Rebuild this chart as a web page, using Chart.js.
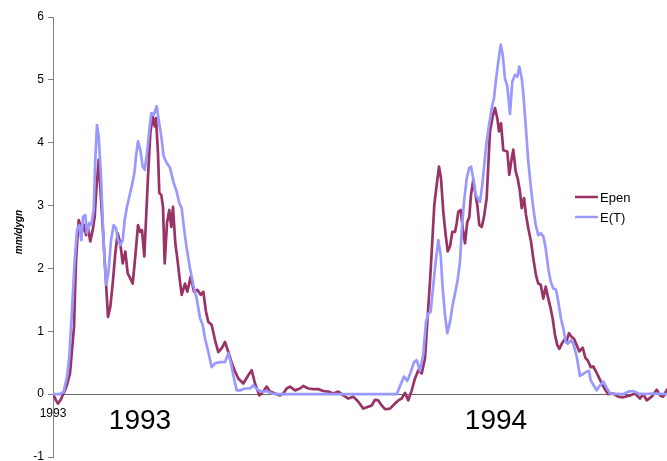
<!DOCTYPE html>
<html><head><meta charset="utf-8">
<script src="https://cdn.jsdelivr.net/npm/chart.js@4.4.0/dist/chart.umd.min.js"></script>
<style>html,body{margin:0;padding:0;background:#fff;} #wrap{width:667px;height:461px;position:relative}</style>
</head><body><div id="wrap"><canvas id="c" width="667" height="461"></canvas></div>
<script>
// ---- data ----
const seriesNames = ['Epen', 'E(T)'];
const yAxisTitle = 'mm/dygn';
const xTickValues = [0];
const xTickLabels = ['1993'];
const yearNames = ['1993', '1994'];
const yearLabelT = [87, 443];

const epenT = [
  0,3,5,8,10,12,14,17,19,21,
  23,25.7,27.3,29,31.3,33,35,37.3,39.7,41.7,
  43.3,45.7,47.3,49.7,52.3,55,57.3,59.7,62.3,64.7,
  67.3,69.7,72.3,74.7,77.3,79.7,82.3,85,87.3,89,
  91.3,93,95,97.3,99.7,101.7,103,105,106.3,108.3,
  110,111.7,114,116.3,118.3,120,122.3,124.3,127,128.7,
  132,134.3,137.7,141,144.3,147.7,150.3,153,155.3,158.7,
  162,165.3,168.7,172,175.3,178.7,182,185.3,190.3,195.3,
  198.7,202,206.3,210.3,213.7,217,222,227,230.3,233.7,
  237,242,247,250.3,255.3,260.3,265.3,270.3,275.3,280.3,
  285.3,290.3,295.3,300.3,305.3,310.3,315.3,318.7,322,325.3,
  328.7,332,337,342,345.3,348.7,352,355.3,358.7,362,
  365.3,368.7,372,374.3,377,379.3,381.3,383.7,386,388,
  390.3,392.7,394.7,397,399.3,402,403.7,405.3,407.7,409.7,
  412,414.3,416.3,418,420.3,422,424.3,426.3,428.7,431,
  433.7,435.3,437,439.7,442,444.3,446,448,450.3,454.3,
  456.3,458.7,460.3,462.7,464.7,467,468.7,471,473,475.3,
  478,480.3,483,485.3,487.7,490.3,492.7,495.3,497.7,499.7,
  502,504.3,506.3,508.7,511,513.7,516,518.7,521,523.7,
  526.3,529.7,532.3,535.3,537.7,540.3,543,546.3,549.7,553,
  555.3,560.3,565.3,570.3,577,582,587,590.3,593.7,598.7,
  603.7,607,610.3,614
];
const epenV = [
  0,-0.10,-0.15,-0.08,0.0,0.06,0.15,0.33,0.70,1.07,
  2.13,2.77,2.69,2.58,2.69,2.53,2.64,2.43,2.61,2.82,
  3.25,3.73,3.30,2.66,1.97,1.23,1.39,1.76,2.24,2.56,
  2.40,2.08,2.27,1.92,1.84,1.76,2.19,2.69,2.58,2.61,
  2.19,2.77,3.46,4.15,4.42,4.26,4.39,3.83,3.20,3.17,
  2.98,2.08,2.72,2.93,2.66,2.98,2.40,2.16,1.79,1.58,
  1.76,1.63,1.87,1.63,1.66,1.58,1.63,1.31,1.15,1.10,
  0.86,0.67,0.73,0.83,0.67,0.50,0.36,0.25,0.17,0.30,
  0.38,0.17,-0.02,0.04,0.12,0.04,0.01,-0.02,0.01,0.09,
  0.12,0.06,0.09,0.13,0.09,0.08,0.08,0.05,0.04,0.01,
  0.04,-0.02,-0.07,-0.04,-0.12,-0.23,-0.20,-0.18,-0.09,-0.10,
  -0.18,-0.24,-0.23,-0.15,-0.10,-0.07,0.02,-0.10,0.06,0.25,
  0.38,0.33,0.57,1.15,1.79,2.43,3.01,3.33,3.62,3.43,
  2.90,2.53,2.27,2.35,2.58,2.58,2.72,2.90,2.93,2.64,
  2.40,2.74,2.82,3.17,3.41,3.22,3.01,2.69,2.66,2.82,
  3.12,3.65,4.18,4.42,4.55,4.39,4.18,4.31,3.88,3.86,
  3.49,3.75,3.89,3.54,3.43,3.22,2.96,3.12,2.85,2.64,
  2.43,2.16,1.89,1.76,1.74,1.52,1.71,1.52,1.36,1.20,
  0.94,0.78,0.72,0.80,0.86,0.85,0.97,0.91,0.88,0.78,
  0.68,0.74,0.58,0.52,0.43,0.44,0.36,0.25,0.14,0.05,
  0,0.01,-0.04,-0.05,-0.02,0.01,-0.07,0.0,-0.10,-0.04,
  0.07,-0.02,-0.04,0.07
];

const etT = [
  0,7,10.7,14,16.3,19,21.7,24,26.3,28.3,
  30,32.3,34,36.3,38.3,40.7,42.3,44,45.7,48,
  50,51.7,53.3,55.7,58,60.7,63,65,67.3,69.7,
  71.7,74,76.3,79,81.3,83,85,87.3,89.7,91.7,
  94,96.3,98.3,100.7,103.7,105.7,108.3,110.7,114,117,
  120.3,123.7,126.3,128.7,131,133.7,137,140.3,143.7,147,
  149.7,152,155.3,158.7,162,167,172,175.3,177.7,180.3,
  183.7,187,192,197,200.3,205.3,210.3,213.7,218.7,223.7,
  343.7,347,351,354.3,357.7,361,363.7,367,370.3,373,
  375.3,377.7,380.3,382.7,385.3,387.7,389.7,392,394.3,397,
  399.7,402,404.7,407,408.7,411,413.7,416,418,420.3,
  422.7,424.7,427,429.3,431.3,433.7,436,438.7,441,443,
  445.3,447.7,449.7,452,454.3,457,459.3,462,464.3,466.3,
  468.7,470.3,472.7,475.3,478,480.3,482.7,485.3,487.7,490.3,
  492.7,495.3,497.7,500.3,503,505.3,508,510.3,512.7,514.7,
  517.7,520.3,523.7,527,530.3,533.7,536,537.7,540.3,543.7,
  547,550.3,553.7,557,570.3,575.3,580.3,585.3,592,600.3,
  614
];
const etV = [
  0,0,0.04,0.28,0.59,1.34,2.13,2.61,2.69,2.45,
  2.82,2.85,2.56,2.72,2.69,2.93,3.73,4.28,4.10,3.46,
  2.66,2.08,1.74,1.97,2.45,2.69,2.64,2.45,2.37,2.45,
  2.77,2.98,3.14,3.33,3.51,3.78,4.02,3.89,3.62,3.57,
  3.83,4.20,4.47,4.44,4.58,4.36,4.10,3.78,3.67,3.60,
  3.38,3.22,3.04,2.96,2.64,2.32,2.00,1.74,1.52,1.21,
  1.10,0.89,0.67,0.43,0.49,0.51,0.51,0.65,0.51,0.30,
  0.06,0.06,0.09,0.09,0.14,0.06,0.04,0.05,0.01,0,
  0,0.13,0.28,0.21,0.35,0.51,0.54,0.37,0.64,1.15,
  1.28,1.31,1.74,2.11,2.45,2.21,1.68,1.26,0.97,1.15,
  1.42,1.60,1.82,2.11,2.58,3.06,3.43,3.59,3.62,3.43,
  3.17,3.12,3.06,3.33,3.65,4.02,4.28,4.55,4.71,5.00,
  5.29,5.56,5.40,5.02,4.90,4.46,4.97,5.08,5.05,5.21,
  5.03,4.79,4.28,3.70,3.27,2.96,2.69,2.53,2.56,2.51,
  2.32,2.00,1.79,1.68,1.66,1.47,1.20,1.05,0.83,0.80,
  0.86,0.80,0.60,0.29,0.32,0.36,0.37,0.22,0.15,0.06,
  0.14,0.20,0.10,0.01,0,0.04,0.05,0.01,0,0.01,
  0
];

const yMin = -1, yMax = 6, xMax = 614;

// ---- chart ----
const FONT = '"Liberation Sans", Arial, sans-serif';
const colors = ['#993366', '#9999FF'];
const toXY = (ts, vs) => ts.map((t, i) => ({ x: t, y: vs[i] }));

const extras = {
  id: 'extras',
  afterDraw(chart) {
    const ctx = chart.ctx, xs = chart.scales.x, ys = chart.scales.y;
    ctx.save();
    ctx.fillStyle = '#000';
    ctx.font = '28px ' + FONT;
    ctx.textAlign = 'center';
    ctx.textBaseline = 'middle';
    yearNames.forEach((n, i) => ctx.fillText(n, xs.getPixelForValue(yearLabelT[i]), ys.getPixelForValue(-0.43)));
    ctx.font = '13px ' + FONT;
    ctx.textAlign = 'left';
    seriesNames.forEach((n, i) => {
      const y = 197 + i * 20;
      ctx.strokeStyle = colors[i];
      ctx.lineWidth = 2.5;
      ctx.beginPath(); ctx.moveTo(575, y); ctx.lineTo(598, y); ctx.stroke();
      ctx.fillStyle = '#000';
      ctx.fillText(n, 600, y + 1);
    });
    ctx.translate(19.5, 232);
    ctx.rotate(-Math.PI / 2);
    ctx.font = 'italic bold 10px ' + FONT;
    ctx.textAlign = 'center';
    ctx.fillText(yAxisTitle, 0, 0);
    ctx.restore();
  }
};

new Chart(document.getElementById('c'), {
  type: 'line',
  data: {
    datasets: [
      { label: seriesNames[0], data: toXY(epenT, epenV), borderColor: colors[0], borderWidth: 2.7, borderJoinStyle: 'round', borderCapStyle: 'round', pointRadius: 0, tension: 0, order: 2 },
      { label: seriesNames[1], data: toXY(etT, etV), borderColor: colors[1], borderWidth: 2.7, borderJoinStyle: 'round', borderCapStyle: 'round', pointRadius: 0, tension: 0, order: 1 }
    ]
  },
  options: {
    responsive: false,
    animation: false,
    devicePixelRatio: 1,
    layout: { padding: { top: 17, bottom: 4, left: 0, right: 0 } },
    plugins: { legend: { display: false }, tooltip: { enabled: false } },
    scales: {
      x: {
        type: 'linear',
        position: { y: 0 },
        min: 0, max: xMax,
        afterBuildTicks: (s) => { s.ticks = xTickValues.map(v => ({ value: v })); },
        ticks: {
          callback: (v) => { const i = xTickValues.indexOf(v); return i >= 0 ? xTickLabels[i] : ''; },
          color: '#000', font: { family: FONT, size: 12 }, padding: 12, maxRotation: 0, autoSkip: false
        },
        grid: { display: false, drawTicks: false },
        border: { display: true, color: '#666', width: 1 }
      },
      y: {
        min: yMin, max: yMax,
        ticks: { stepSize: 1, color: '#000', font: { family: FONT, size: 12 }, padding: 4 },
        grid: { drawOnChartArea: false, drawTicks: true, tickLength: 5, color: '#808080' },
        border: { display: true, color: '#808080', width: 1 },
        afterFit: (s) => { s.width = 53; s.paddingTop = 0; s.paddingBottom = 0; }
      }
    }
  },
  plugins: [extras]
});
</script>
</body></html>
